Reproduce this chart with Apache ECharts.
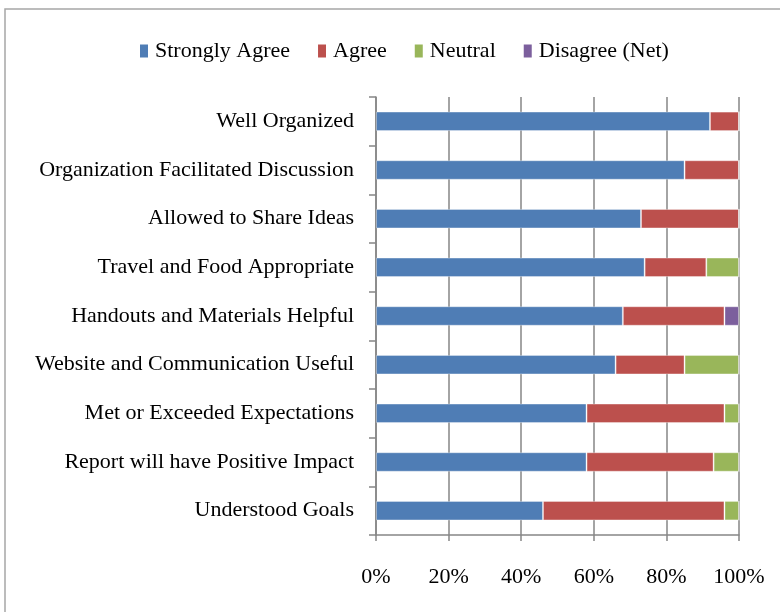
<!DOCTYPE html>
<html><head><meta charset="utf-8">
<script src="https://cdn.jsdelivr.net/npm/echarts@6/dist/echarts.min.js"></script>
<style>html,body{margin:0;padding:0;background:#fff}#c{width:780px;height:612px}</style>
</head><body><div id="c"></div>
<script>
const categories = ["Well Organized","Organization Facilitated Discussion","Allowed to Share Ideas","Travel and Food Appropriate","Handouts and Materials Helpful","Website and Communication Useful","Met or Exceeded Expectations","Report will have Positive Impact","Understood Goals"];
const stronglyAgree = [92,85,73,74,68,66,58,58,46];
const agree = [8,15,27,17,28,19,38,35,50];
const neutral = [0,0,0,9,0,15,4,7,4];
const disagree = [0,0,0,0,4,0,0,0,0];
const xTicks = [0,20,40,60,80,100];

const font = "'Liberation Serif','Times New Roman',serif";
const chart = echarts.init(document.getElementById('c'), null, {renderer:'canvas'});
function s(name, data, color){
  return {name, type:'bar', stack:'t', data, barWidth:'40%',
    itemStyle:{color, borderColor:'rgba(255,255,255,0.35)', borderWidth:1}};
}
chart.setOption({
  animation:false,
  graphic:[{type:'rect', shape:{x:5,y:9,width:800,height:620}, style:{fill:'none', stroke:'#a6a6a6', lineWidth:1.5}, silent:true}],
  legend:{top:35, left:135, icon:'rect', itemWidth:8, itemHeight:13, itemGap:28,
    itemStyle:{borderWidth:0},
    textStyle:{fontFamily:font, fontSize:22, color:'#000', padding:[0,0,0,2]},
    data:['Strongly Agree','Agree','Neutral','Disagree (Net)']},
  grid:{left:376, right:41, top:97, bottom:77, containLabel:false},
  xAxis:{type:'value', min:0, max:100, interval:20,
    axisLine:{show:true, lineStyle:{color:'#868686', width:1.5}},
    axisTick:{show:true, length:6, lineStyle:{color:'#868686', width:1.5}},
    splitLine:{show:true, lineStyle:{color:'#868686', width:1.5}},
    axisLabel:{fontFamily:font, fontSize:22, color:'#000', margin:31, formatter:v=>v+'%'}},
  yAxis:{type:'category', inverse:true, data:categories,
    axisLine:{show:true, lineStyle:{color:'#868686', width:1.5}},
    axisTick:{show:true, length:7, lineStyle:{color:'#868686', width:1.5}},
    axisLabel:{fontFamily:font, fontSize:22, color:'#000', margin:22}},
  series:[s('Strongly Agree', stronglyAgree, '#4F7DB5'), s('Agree', agree, '#BC504D'), s('Neutral', neutral, '#99B65A'), s('Disagree (Net)', disagree, '#7C5F9D')]
});
</script></body></html>
